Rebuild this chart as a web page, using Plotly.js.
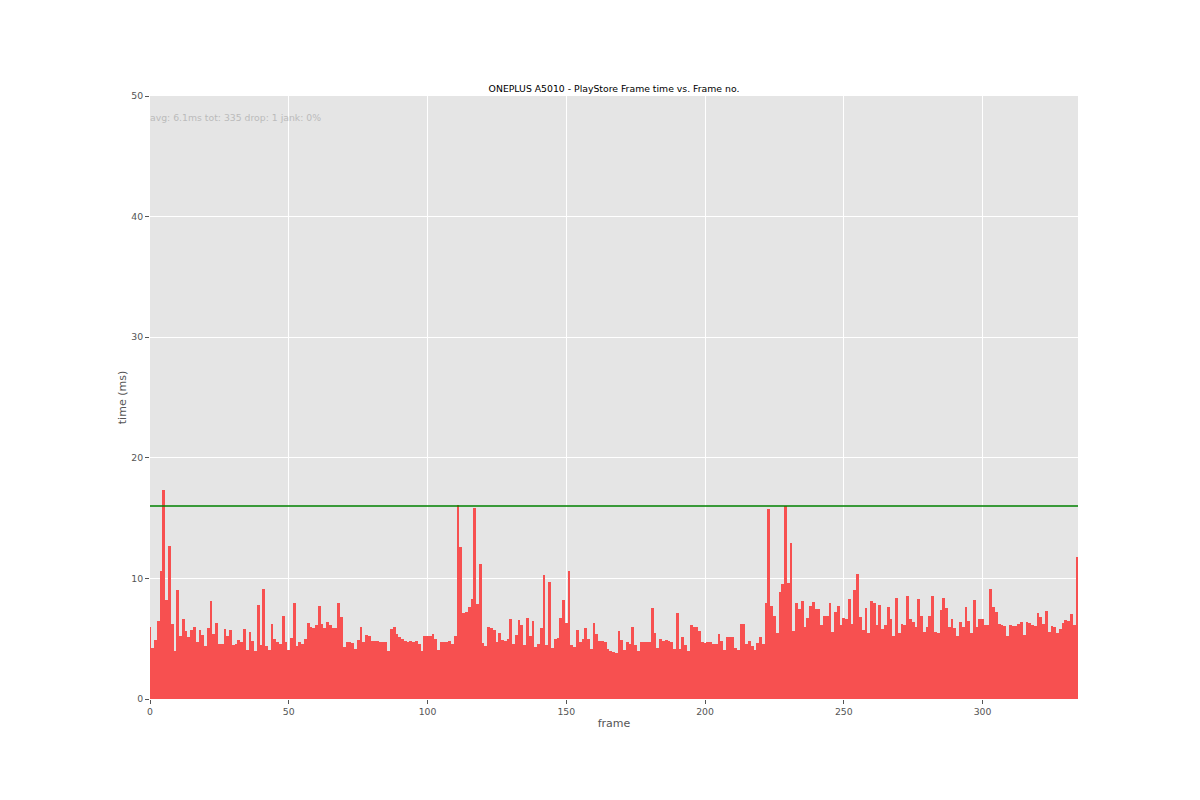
<!DOCTYPE html>
<html>
<head>
<meta charset="utf-8">
<script src="https://cdn.plot.ly/plotly-3.0.1.min.js"></script>
<style>
  body { margin: 0; background: #fff; }
  #myDiv { width: 1200px; height: 800px; }
</style>
</head>
<body>
<div id="myDiv"></div>
<script>
// frame times in ms, one per frame
let frameTimeMs = [
    6.0, 4.2, 4.9, 6.5, 10.6, 17.3, 8.2, 12.7, 6.2, 4.0, 9.0, 5.2, 6.6, 5.6, 5.1, 5.7, 6.0, 4.75, 5.7, 5.3,
    4.4, 5.9, 8.1, 5.4, 6.3, 4.6, 4.6, 5.8, 5.2, 5.7, 4.5, 4.6, 4.9, 4.7, 5.8,
    4.1, 5.55, 4.8, 4.0, 7.8, 4.5, 9.1, 4.4, 4.1, 6.2, 5.0, 4.7, 4.6, 6.9, 4.7, 4.1, 5.05, 8.0, 4.4, 4.7,
    4.6, 5.0, 6.3, 6.0, 5.9, 6.1, 7.7, 6.2, 5.9, 6.4, 6.1, 5.9, 5.9, 8.0, 6.8,
    4.3, 4.75, 4.7, 4.65, 4.15, 4.9, 6.0, 4.7, 5.3, 5.2, 4.8, 4.8, 4.8, 4.7, 4.75, 4.7, 4.0, 5.8, 6.0, 5.4,
    5.1, 5.0, 4.8, 4.75, 4.8, 4.75, 4.8, 4.6, 4.0, 5.25, 5.2, 5.2, 5.35, 4.95, 4.1,
    4.75, 4.7, 4.7, 4.8, 4.6, 5.2, 16.1, 12.6, 7.1, 7.25, 7.6, 8.3, 15.8, 7.9, 11.2, 4.65, 4.4, 6.0, 5.9, 5.7,
    4.7, 5.5, 4.9, 4.85, 5.0, 6.6, 4.55, 5.3, 6.55, 6.1, 4.45, 6.7, 5.2, 6.5, 4.35,
    4.55, 5.85, 10.25, 4.5, 9.7, 4.2, 5.0, 5.05, 6.7, 8.25, 6.3, 10.6, 4.5, 4.3, 5.7, 4.7, 4.95, 5.85, 4.95, 4.15,
    6.3, 5.4, 4.8, 4.8, 4.7, 4.15, 4.0, 3.9, 3.8, 5.6, 4.9, 4.05, 4.7, 4.6, 6.0,
    4.45, 3.95, 4.75, 4.7, 4.7, 4.75, 7.55, 5.45, 4.2, 4.95, 4.8, 4.9, 4.85, 4.7, 4.15, 7.15, 4.15, 5.1, 4.45, 4.0,
    6.1, 6.0, 5.95, 5.6, 4.7, 4.65, 4.7, 4.7, 4.6, 4.6, 5.4, 4.85, 4.05, 5.1, 5.1,
    5.1, 4.2, 4.05, 6.25, 6.25, 4.55, 4.8, 4.4, 4.1, 4.65, 5.1, 4.6, 8.0, 15.75, 7.7, 6.85, 5.5, 8.9, 9.5, 16.0,
    9.6, 12.9, 5.6, 8.0, 7.5, 8.1, 6.0, 6.7, 7.7, 8.05, 7.5, 7.5, 6.1, 6.9, 6.9,
    7.95, 5.55, 7.2, 7.7, 6.1, 6.7, 6.6, 8.3, 6.25, 9.0, 10.4, 6.8, 5.7, 7.55, 5.5, 8.1, 8.0, 6.1, 7.8, 5.8,
    6.15, 7.65, 6.6, 5.2, 8.4, 5.5, 6.2, 6.15, 8.5, 6.65, 6.35, 5.95, 8.3, 6.85, 5.55,
    6.0, 6.85, 8.5, 5.55, 5.5, 7.4, 8.35, 7.55, 5.95, 6.65, 5.85, 5.2, 6.4, 6.0, 7.65, 6.45, 5.45, 8.2, 6.0, 6.65,
    6.6, 6.15, 6.1, 9.15, 7.65, 7.25, 6.2, 6.15,
    6.05, 5.22, 6.14, 6.03, 6.08, 6.2, 6.41, 5.3, 6.38, 6.3, 6.14, 6.08, 7.1, 6.8, 6.22, 7.3, 5.58, 6.08, 6.0, 5.44,
    5.8, 6.27, 6.55, 6.47, 7.05, 6.14, 11.75
];

let JANK_THRESHOLD_MS = 16;
let X_TICKS = [0, 50, 100, 150, 200, 250, 300];
let Y_TICKS = [0, 10, 20, 30, 40, 50];
let STATS_TEXT = "avg: 6.1ms tot: 335 drop: 1 jank: 0%";
let TITLE_TEXT = "ONEPLUS A5010 - PlayStore Frame time vs. Frame no.";

let FONT = "DejaVu Sans, sans-serif";

function drawFramePlot() {
    let frames = frameTimeMs.map((d, i) => i);

    let barTrace = {
        x: frames,
        y: frameTimeMs,
        type: 'bar',
        width: 1,
        marker: {
            color: 'rgb(247,80,80)',
            line: { width: 0 }
        },
        hoverinfo: 'x+y'
    };

    let layout = {
        width: 1200,
        height: 800,
        margin: { l: 150, r: 122, t: 96, b: 101 },
        paper_bgcolor: '#ffffff',
        plot_bgcolor: '#e5e5e5',
        showlegend: false,
        bargap: 0,
        font: { family: FONT, color: '#555555', size: 9.3 },
        title: {
            text: TITLE_TEXT,
            font: { family: FONT, size: 9.3, color: '#000000' },
            x: 0.5, xref: 'paper',
            y: 1, yref: 'paper', yanchor: 'bottom',
            pad: { b: 4 }
        },
        xaxis: {
            range: [0, frameTimeMs.length - 0.6],
            tickvals: X_TICKS,
            ticks: 'outside', ticklen: 4, tickcolor: '#555555',
            tickfont: { family: FONT, size: 9.3, color: '#555555' },
            showgrid: true, gridcolor: '#ffffff', gridwidth: 1,
            zeroline: false, showline: false,
            title: { text: 'frame', font: { family: FONT, size: 11, color: '#555555' }, standoff: 3 }
        },
        yaxis: {
            range: [0, 50],
            tickvals: Y_TICKS,
            ticks: 'outside', ticklen: 4, tickcolor: '#555555',
            tickfont: { family: FONT, size: 9.3, color: '#555555' },
            showgrid: true, gridcolor: '#ffffff', gridwidth: 1,
            zeroline: false, showline: false,
            title: { text: 'time (ms)', font: { family: FONT, size: 11, color: '#555555' }, standoff: 2 }
        },
        shapes: [{
            type: 'line',
            xref: 'paper', x0: 0, x1: 1,
            yref: 'y', y0: JANK_THRESHOLD_MS, y1: JANK_THRESHOLD_MS,
            line: { color: '#008000', width: 1.5 }
        }],
        annotations: [{
            text: STATS_TEXT,
            xref: 'paper', x: 0, xanchor: 'left', xshift: -2,
            yref: 'paper', y: 0.965, yanchor: 'middle',
            showarrow: false,
            font: { family: FONT, size: 9.3, color: '#bbbbbb' }
        }]
    };

    Plotly.newPlot('myDiv', [barTrace], layout, { staticPlot: true });
}

drawFramePlot();
</script>
</body>
</html>
